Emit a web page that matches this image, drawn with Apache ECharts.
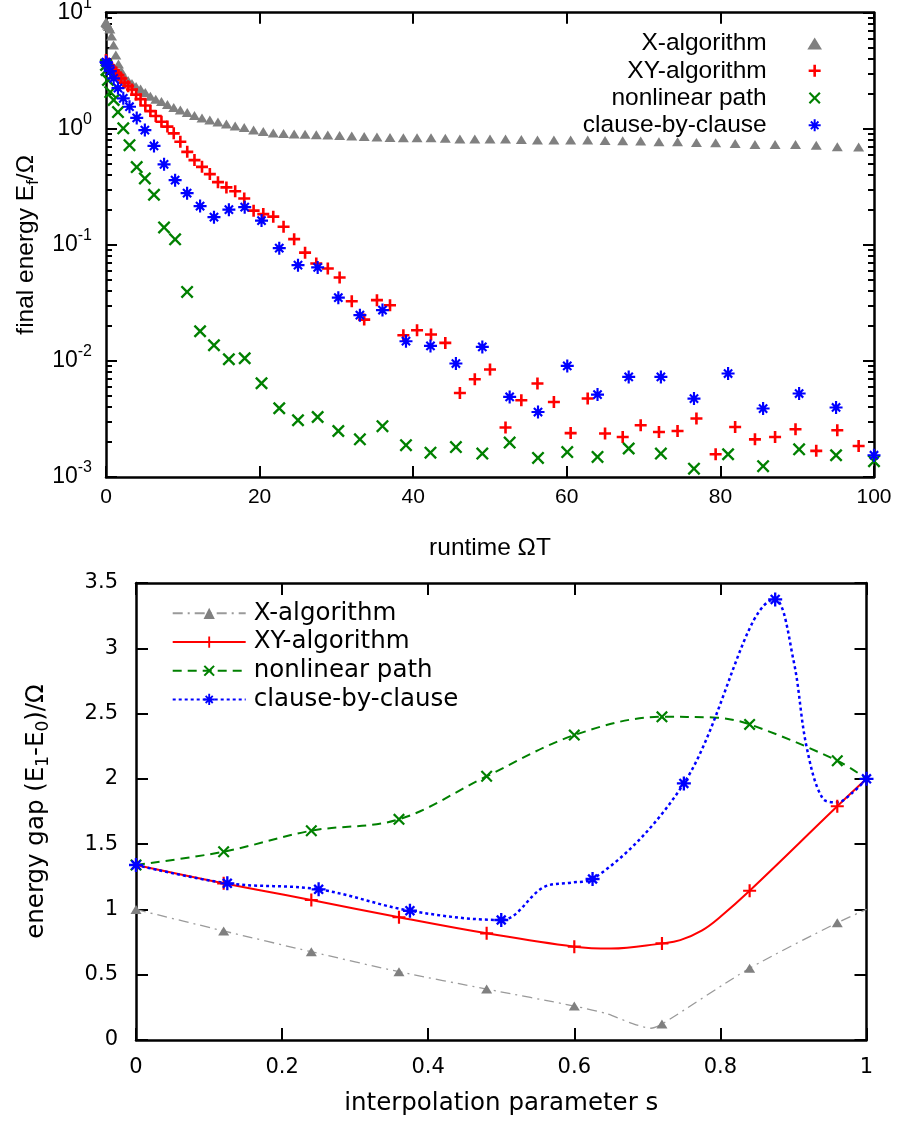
<!DOCTYPE html>
<html>
<head>
<meta charset="utf-8">
<script src="https://cdn.jsdelivr.net/npm/echarts@6/dist/echarts.min.js"></script>
<style>
html,body{margin:0;padding:0;background:#fff;}
#chart{width:900px;height:1133px;}
</style>
</head>
<body>
<div id="chart"></div>
<script>
// ---------- top panel data ----------
const runtimeXY = [0,0.02,0.08,0.18,0.32,0.5,0.72,0.98,1.28,1.62,2,2.42,2.88,3.38,3.92,4.5,5.12,5.78,6.48,7.22,8,8.82,9.68,10.58,11.52,12.5,13.52,14.58,15.68,16.82,18,19.22,20.48,21.78,23.12,24.5,25.92,27.38,28.88,30.42,32,33.62,35.28,36.98,38.72,40.5,42.32,44.18,46.08,48.02,50,52.02,54.08,56.18,58.32,60.5,62.72,64.98,67.28,69.62,72,74.42,76.88,79.38,81.92,84.5,87.12,89.78,92.48,95.22,98];
const energyX = [8.32,8.23,8.07,7.83,7.6,7.24,6.3,5.27,4.32,3.61,3.14,2.79,2.6,2.45,2.31,2.2,2.05,1.91,1.8,1.716,1.617,1.523,1.449,1.379,1.299,1.236,1.189,1.142,1.098,1.055,1.024,0.974,0.946,0.918,0.909,0.9,0.895,0.889,0.882,0.874,0.865,0.857,0.848,0.84,0.837,0.837,0.837,0.827,0.815,0.815,0.815,0.815,0.81,0.799,0.799,0.799,0.799,0.794,0.788,0.783,0.772,0.772,0.763,0.757,0.748,0.733,0.733,0.733,0.723,0.7,0.696];
const energyXY = [3.91,3.83,3.76,3.65,3.54,3.42,3.34,3.21,3.05,2.9,2.71,2.5,2.33,2.18,1.97,1.8,1.585,1.42,1.287,1.149,1.044,0.913,0.772,0.633,0.537,0.47,0.407,0.347,0.3125,0.29,0.251,0.197,0.184,0.175,0.143,0.112,0.0857,0.0691,0.0626,0.0524,0.0327,0.0227,0.0334,0.0302,0.01666,0.0184,0.0169,0.0143,0.0053,0.00695,0.00843,0.00267,0.00458,0.00639,0.00443,0.00239,0.00474,0.00237,0.00221,0.00279,0.00244,0.00249,0.00319,0.00157,0.0027,0.00211,0.00221,0.00258,0.00168,0.00253,0.00185];
const runtimeNC = [0,0.06,0.25,0.56,1,1.56,2.25,3.06,4,5.06,6.25,7.56,9,10.56,12.25,14.06,16,18.06,20.25,22.56,25,27.56,30.25,33.06,36,39.06,42.25,45.56,49,52.56,56.25,60.06,64,68.06,72.25,76.56,81,85.56,90.25,95.06,100];
const energyNL = [3.54,3.21,2.63,2.07,1.77,1.393,1.008,0.723,0.4675,0.3736,0.27,0.1413,0.1115,0.0393,0.01803,0.01366,0.01034,0.01055,0.00642,0.00391,0.00308,0.00329,0.00249,0.00211,0.00274,0.00188,0.00162,0.00181,0.00159,0.00198,0.00146,0.00164,0.00149,0.00176,0.00159,0.00118,0.00157,0.00124,0.00173,0.00154,0.00137];
const energyCBC = [3.76,3.69,3.5,3.14,2.72,2.24,1.83,1.548,1.241,0.974,0.712,0.494,0.361,0.279,0.2156,0.1733,0.2008,0.2113,0.1617,0.0937,0.0668,0.0639,0.0351,0.0248,0.0274,0.01478,0.01347,0.0095,0.01321,0.0049,0.00363,0.00906,0.00513,0.00728,0.00728,0.00474,0.00779,0.00389,0.00524,0.00397,0.00154];
const logMajorTicks = [0.001,0.01,0.1,1,10];
const logMinorTicks = [0.002,0.003,0.004,0.005,0.006,0.007,0.008,0.009,0.02,0.03,0.04,0.05,0.06,0.07,0.08,0.09,0.2,0.3,0.4,0.5,0.6,0.7,0.8,0.9,2,3,4,5,6,7,8,9];

// ---------- bottom panel data ----------
const sGrid = [0,0.12,0.24,0.36,0.48,0.6,0.72,0.84,0.96,1];
const gapX = [1.0,0.835,0.676,0.523,0.39,0.26,0.122,0.549,0.898,1.0];
const gapXY = [1.34,1.2,1.072,0.94,0.817,0.715,0.74,1.143,1.79,2.0];
const gapNL = [1.34,1.442,1.603,1.69,2.02,2.335,2.475,2.417,2.139,2.0];
const sCBC = [0,0.125,0.25,0.375,0.5,0.625,0.75,0.875,1];
const gapCBC = [1.34,1.2,1.154,0.99,0.919,1.233,1.965,3.374,2.0];
// extra curve points (no marker)
const curveXs = [0.645,0.68,0.705];      const curveXg = [0.2,0.125,0.09];
const curveXYs = [0.65,0.745,0.775,0.8]; const curveXYg = [0.7,0.765,0.84,0.944];
const curveNLs = [0.79];                 const curveNLg = [2.47];
const curveCBCs = [0.558,0.595,0.9,0.918,0.94,0.96,0.98];
const curveCBCg = [1.17,1.205,2.91,2.245,1.85,1.82,1.89];

const names = ['X-algorithm','XY-algorithm','nonlinear path','clause-by-clause'];

// ---------- helpers ----------
function pairs(xs, ys){ return xs.map((x,i)=>[x, ys[i]]); }
function lineData(xs, ys, exs, eys, noMarkEnd){
  const d = xs.map((x,i)=>({value:[x,ys[i]], marked:!(noMarkEnd && i===xs.length-1)}));
  exs.forEach((x,i)=>d.push({value:[x,eys[i]], marked:false}));
  d.sort((a,b)=>a.value[0]-b.value[0]);
  return d.map(p=>p.marked?{value:p.value}:{value:p.value, symbol:'none'});
}

const TRI = 'path://M0,-4.5L5.5,4.5L-5.5,4.5Z';
const PLUS_T = 'path://M-1.3,-6H1.3V-1.3H6V1.3H1.3V6H-1.3V1.3H-6V-1.3H-1.3Z';
const PLUS_B = 'path://M-1,-6H1V-1H6V1H1V6H-1V1H-6V-1H-1Z';
const CROSS = 'path://M-6,-4.45L-4.45,-6L0,-1.55L4.45,-6L6,-4.45L1.55,0L6,4.45L4.45,6L0,1.55L-4.45,6L-6,4.45L-1.55,0Z';
const STAR = 'path://M-1,-6H1V-1H6V1H1V6H-1V1H-6V-1H-1Z M-4.5,-3.1L-3.1,-4.5L0,-1.4L3.1,-4.5L4.5,-3.1L1.4,0L4.5,3.1L3.1,4.5L0,1.4L-3.1,4.5L-4.5,3.1L-1.4,0Z';

const FT = 'Liberation Sans, Arial, sans-serif';
const FB = 'DejaVu Sans, sans-serif';
const BLACK = '#000';

function axisLineOn(){ return {show:true, onZero:false, lineStyle:{color:BLACK, width:2.5}}; }
function ticks(len, extra){ return Object.assign({show:true, inside:true, length:len, lineStyle:{color:BLACK, width:2}}, extra||{}); }

const logLabelRich = {
  b:{fontFamily:FT, fontSize:23, color:BLACK, lineHeight:35, verticalAlign:'middle'},
  s:{fontFamily:FT, fontSize:16, color:BLACK, lineHeight:35, verticalAlign:'top'}
};

const chart = echarts.init(document.getElementById('chart'), null, {renderer:'canvas'});
const option = {
  animation:false,
  backgroundColor:'#fff',
  grid:[
    {left:106, right:26, top:12.7, height:464.3, outerBoundsMode:'none', containLabel:false},
    {left:136, right:33.5, top:583, height:457, outerBoundsMode:'none', containLabel:false}
  ],
  legend:[
    {
      orient:'vertical', align:'right', right:73, top:24.8,
      itemWidth:86, itemHeight:12, itemGap:0, selectedMode:false, symbolKeepAspect:true,
      textStyle:{fontFamily:FT, fontSize:24.5, lineHeight:27.3, color:BLACK},
      data:names
    },
    {
      orient:'vertical', align:'left', left:166.7, top:594,
      itemWidth:73, itemHeight:14, itemGap:0, selectedMode:false,
      textStyle:{fontFamily:FB, fontSize:24.5, lineHeight:28.7, color:BLACK, padding:[0,0,0,3]},
      formatter:function(n){ return n.trim(); },
      data:names.map(n=>n+' ')
    }
  ],
  xAxis:[
    {type:'value', gridIndex:0, position:'bottom', min:0, max:100, interval:20,
     axisLine:axisLineOn(), axisTick:ticks(11), splitLine:{show:false},
     axisLabel:{fontFamily:FT, fontSize:21, color:BLACK, margin:10},
     name:'runtime ΩT', nameLocation:'middle', nameGap:59, nameMoveOverlap:false,
     nameTextStyle:{fontFamily:FT, fontSize:24.5, color:BLACK}},
    {type:'value', gridIndex:0, position:'top', min:0, max:100, interval:20,
     axisLine:axisLineOn(), axisTick:ticks(11), splitLine:{show:false}, axisLabel:{show:false}},
    {type:'value', gridIndex:1, position:'bottom', min:0, max:1, interval:0.2,
     axisLine:axisLineOn(), axisTick:ticks(12), splitLine:{show:false},
     axisLabel:{fontFamily:FB, fontSize:21, color:BLACK, margin:17},
     name:'interpolation parameter s', nameLocation:'middle', nameGap:51, nameMoveOverlap:false,
     nameTextStyle:{fontFamily:FB, fontSize:24.5, color:BLACK}},
    {type:'value', gridIndex:1, position:'top', min:0, max:1, interval:0.2,
     axisLine:axisLineOn(), axisTick:ticks(12), splitLine:{show:false}, axisLabel:{show:false}}
  ],
  yAxis:[
    {type:'log', logBase:10, gridIndex:0, position:'left', min:0.001, max:10,
     axisLine:axisLineOn(), axisTick:ticks(11,{customValues:logMajorTicks}), splitLine:{show:false},
     axisLabel:{customValues:logMajorTicks, margin:14, fontFamily:FT, fontSize:23, color:BLACK,
       formatter:function(v){ const e=Math.round(Math.log10(v)); return '{b|10}{s|'+e+'}'; },
       rich:logLabelRich},
     name:'{n|final energy E}{sub|f}{n|/Ω}', nameLocation:'middle', nameGap:64, nameMoveOverlap:false,
     nameTextStyle:{fontFamily:FT, fontSize:24.5, color:BLACK, rich:{
       n:{fontFamily:FT, fontSize:24.5, color:BLACK, lineHeight:28, verticalAlign:'top'},
       sub:{fontFamily:FT, fontSize:17, color:BLACK, lineHeight:28, verticalAlign:'bottom'}}}},
    {type:'log', logBase:10, gridIndex:0, position:'left', min:0.001, max:10,
     axisLine:{show:false, onZero:false}, axisTick:ticks(6,{customValues:logMinorTicks}),
     splitLine:{show:false}, axisLabel:{show:false}},
    {type:'log', logBase:10, gridIndex:0, position:'right', min:0.001, max:10,
     axisLine:axisLineOn(), axisTick:ticks(11,{customValues:logMajorTicks}),
     splitLine:{show:false}, axisLabel:{show:false}},
    {type:'log', logBase:10, gridIndex:0, position:'right', min:0.001, max:10,
     axisLine:{show:false, onZero:false}, axisTick:ticks(6,{customValues:logMinorTicks}),
     splitLine:{show:false}, axisLabel:{show:false}},
    {type:'value', gridIndex:1, position:'left', min:0, max:3.5, interval:0.5,
     axisLine:axisLineOn(), axisTick:ticks(12), splitLine:{show:false},
     axisLabel:{fontFamily:FB, fontSize:21, color:BLACK, margin:18},
     name:'{n|energy gap (E}{sub|1}{n|-E}{sub|0}{n|)/Ω}', nameLocation:'middle', nameGap:84, nameMoveOverlap:false,
     nameTextStyle:{fontFamily:FB, fontSize:24.5, color:BLACK, rich:{
       n:{fontFamily:FB, fontSize:24.5, color:BLACK, lineHeight:28, verticalAlign:'top'},
       sub:{fontFamily:FB, fontSize:17, color:BLACK, lineHeight:28, verticalAlign:'bottom'}}}},
    {type:'value', gridIndex:1, position:'right', min:0, max:3.5, interval:0.5,
     axisLine:axisLineOn(), axisTick:ticks(12), splitLine:{show:false}, axisLabel:{show:false}}
  ],
  series:[
    {type:'scatter', name:names[0], xAxisIndex:0, yAxisIndex:0, data:pairs(runtimeXY, energyX),
     symbol:TRI, symbolSize:[11,9], itemStyle:{color:'#808080', opacity:1}},
    {type:'scatter', name:names[1], xAxisIndex:0, yAxisIndex:0, data:pairs(runtimeXY, energyXY),
     symbol:PLUS_T, symbolSize:12, itemStyle:{color:'#ff0000', opacity:1}},
    {type:'scatter', name:names[2], xAxisIndex:0, yAxisIndex:0, data:pairs(runtimeNC, energyNL),
     symbol:CROSS, symbolSize:13, itemStyle:{color:'#008000', opacity:1}},
    {type:'scatter', name:names[3], xAxisIndex:0, yAxisIndex:0, data:pairs(runtimeNC, energyCBC),
     symbol:STAR, symbolSize:13, itemStyle:{color:'#0000ff', opacity:1}},

    {type:'line', name:names[0]+' ', xAxisIndex:2, yAxisIndex:4, smooth:0.25,
     data:lineData(sGrid, gapX, curveXs, curveXg, true),
     symbol:TRI, symbolSize:[11,9], itemStyle:{color:'#808080', borderWidth:0},
     lineStyle:{color:'#9a9a9a', width:1.3, type:[10,5,2,5]}},
    {type:'line', name:names[1]+' ', xAxisIndex:2, yAxisIndex:4, smooth:0.4,
     data:lineData(sGrid, gapXY, curveXYs, curveXYg, true),
     symbol:PLUS_B, symbolSize:13, itemStyle:{color:'#ff0000', borderWidth:0},
     lineStyle:{color:'#ff0000', width:2}},
    {type:'line', name:names[2]+' ', xAxisIndex:2, yAxisIndex:4, smooth:0.35,
     data:lineData(sGrid, gapNL, curveNLs, curveNLg, true),
     symbol:CROSS, symbolSize:12, itemStyle:{color:'#008000', borderWidth:0},
     lineStyle:{color:'#008000', width:2, type:[9,6]}},
    {type:'line', name:names[3]+' ', xAxisIndex:2, yAxisIndex:4, smooth:0.35,
     data:lineData(sCBC, gapCBC, curveCBCs, curveCBCg, false),
     symbol:STAR, symbolSize:14, itemStyle:{color:'#0000ff', borderWidth:0},
     lineStyle:{color:'#0000ff', width:2.5, type:[3,3]}}
  ]
};
chart.setOption(option);
</script>
</body>
</html>
